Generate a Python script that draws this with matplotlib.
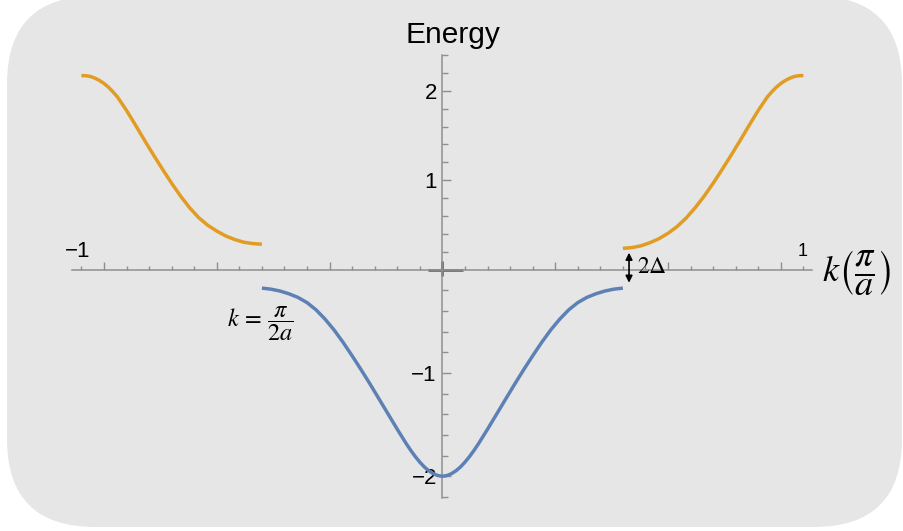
import numpy as np
import matplotlib
matplotlib.use("Agg")
import matplotlib.pyplot as plt
from matplotlib.patches import FancyBboxPatch
from matplotlib.transforms import IdentityTransform
from matplotlib.ticker import MultipleLocator, FixedLocator, NullFormatter

plt.rcParams['font.family'] = ['Liberation Sans', 'DejaVu Sans']
plt.rcParams['mathtext.fontset'] = 'stix'

# lower band, k in units of pi/a
k_lower = [-0.5, -0.475, -0.45, -0.425, -0.4, -0.375, -0.35, -0.325, -0.3, -0.275,
           -0.25, -0.225, -0.2, -0.175, -0.15, -0.125, -0.1, -0.0875, -0.075, -0.0625,
           -0.05, -0.0375, -0.025, -0.0125, 0.0, 0.0125, 0.025, 0.0375, 0.05,
           0.0625, 0.075, 0.0875, 0.1, 0.125, 0.15, 0.175, 0.2, 0.225,
           0.25, 0.275, 0.3, 0.325, 0.35, 0.375, 0.4, 0.425, 0.45, 0.475, 0.5]
E_lower = [-0.18, -0.19, -0.208, -0.235, -0.27, -0.32, -0.39, -0.48, -0.585, -0.705,
           -0.835, -0.97, -1.11, -1.255, -1.40, -1.545, -1.685, -1.75, -1.81, -1.863,
           -1.91, -1.947, -1.975, -1.993, -2.00, -1.993, -1.975, -1.947, -1.91,
           -1.863, -1.81, -1.75, -1.685, -1.545, -1.40, -1.255, -1.11, -0.97,
           -0.835, -0.705, -0.585, -0.48, -0.39, -0.32, -0.27, -0.235, -0.208, -0.19, -0.18]

# upper band, two halves at the zone edges
k_upper_left = [-1.0, -0.9875, -0.975, -0.9625, -0.95, -0.9375, -0.925, -0.9125, -0.9,
                -0.875, -0.85, -0.825, -0.8, -0.775, -0.75, -0.725, -0.7, -0.675,
                -0.65, -0.625, -0.6, -0.575, -0.55, -0.525, -0.5]
E_upper_left = [2.17, 2.168, 2.16, 2.141, 2.115, 2.082, 2.04, 1.988, 1.93,
                1.78, 1.615, 1.445, 1.28, 1.12, 0.965, 0.82, 0.69, 0.58,
                0.495, 0.43, 0.375, 0.335, 0.305, 0.29, 0.283]
k_upper_right = [0.5, 0.525, 0.55, 0.575, 0.6, 0.625, 0.65, 0.675, 0.7, 0.725,
                 0.75, 0.775, 0.8, 0.825, 0.85, 0.875, 0.9, 0.9125, 0.925, 0.9375,
                 0.95, 0.9625, 0.975, 0.9875, 1.0]
E_upper_right = [0.237, 0.245, 0.265, 0.30, 0.345, 0.405, 0.48, 0.575, 0.69, 0.82,
                 0.965, 1.12, 1.28, 1.445, 1.615, 1.78, 1.93, 1.988, 2.04, 2.082,
                 2.115, 2.141, 2.16, 2.168, 2.17]

y_major = [-2, -1, 1, 2]
gap_k = 0.517
gap_E = (-0.128, 0.188)

BLUE = '#5e81b5'
ORANGE = '#e19c24'
AXIS = '#8f8f8f'

fig = plt.figure(figsize=(9.04, 5.31), dpi=100)
fig.patch.set_facecolor('white')

# rounded grey panel behind the plot (pixel coordinates)
panel = FancyBboxPatch((7, 4), 895, 531, boxstyle="round,pad=0,rounding_size=88",
                       transform=IdentityTransform(), facecolor='#e6e6e6',
                       edgecolor='none', zorder=-10)
fig.add_artist(panel)

ax = fig.add_axes([72 / 904, 1 - 498 / 531, (811.7 - 72) / 904, (498 - 55) / 531])
ax.set_facecolor('none')

# the lower half of the energy axis is drawn a little taller than the upper
def fwd(y):
    y = np.asarray(y, dtype=float)
    return np.where(y >= 0, y * 89.3, y * 103.3)

def inv(v):
    v = np.asarray(v, dtype=float)
    return np.where(v >= 0, v / 89.3, v / 103.3)

ax.set_yscale('function', functions=(fwd, inv))
ax.set_xlim(-1.026, 1.023)
ax.set_ylim(-2.21, 2.40)

line_kw = dict(lw=2.5, solid_capstyle='butt', solid_joinstyle='round', zorder=3)
ax.plot(k_lower, E_lower, color=BLUE, **line_kw)
ax.plot(k_upper_left, E_upper_left, color=ORANGE, **line_kw)
ax.plot(k_upper_right, E_upper_right, color=ORANGE, **line_kw)

for s in ['top', 'right']:
    ax.spines[s].set_visible(False)
ax.spines['left'].set_position(('data', 0))
ax.spines['bottom'].set_position(('data', 0))
for s in ['left', 'bottom']:
    ax.spines[s].set_color(AXIS)
    ax.spines[s].set_linewidth(1.1)

ax.xaxis.set_major_locator(MultipleLocator(5 / 16))
ax.xaxis.set_minor_locator(MultipleLocator(1 / 16))
ax.xaxis.set_major_formatter(NullFormatter())
ax.tick_params(axis='x', which='major', direction='in', length=5.8, width=1, color=AXIS)
ax.tick_params(axis='x', which='minor', direction='in', length=2.9, width=1, color=AXIS)

ax.yaxis.set_major_locator(FixedLocator(y_major))
ax.yaxis.set_minor_locator(MultipleLocator(0.2))
ax.set_yticklabels(['\u22122', '\u22121', '1', '2'])
ax.tick_params(axis='y', which='major', direction='in', length=6.5, width=1, color=AXIS,
               labelsize=16, pad=4)
ax.tick_params(axis='y', which='minor', direction='in', length=4.3, width=1, color=AXIS)

# darker stub at the origin
ax.plot([-0.04, 0.056], [0, 0], color='#6e6e6e', lw=2, solid_capstyle='butt', zorder=2)
ax.plot([0, 0], [-0.06, 0.1], color='#6e6e6e', lw=2, solid_capstyle='butt', zorder=2)

# labels
ax.text(0.0305, 2.536, 'Energy', ha='center', va='baseline', fontsize=21.5, clip_on=False)
ax.text(-1.01, 0.207, '\u22121', ha='center', va='center', fontsize=16)
ax.text(0.999, 0.20, '1', ha='center', va='center', fontsize=13)
ax.text(1.052, -0.03, r'$k\left(\dfrac{\pi}{a}\right)$', ha='left', va='center',
        fontsize=26, clip_on=False)
ax.text(-0.504, -0.52, r'$k\,=\,\dfrac{\pi}{2a}$', ha='center', va='center', fontsize=17.5)

# gap marker
ax.annotate('', xy=(gap_k, gap_E[1]), xytext=(gap_k, gap_E[0]),
            arrowprops=dict(arrowstyle='<|-|>', color='black', lw=1.2,
                            mutation_scale=10, shrinkA=0, shrinkB=0))
ax.text(0.539, 0.03, r'$2\Delta$', ha='left', va='center', fontsize=17)

fig.savefig('out.png', dpi=100)
